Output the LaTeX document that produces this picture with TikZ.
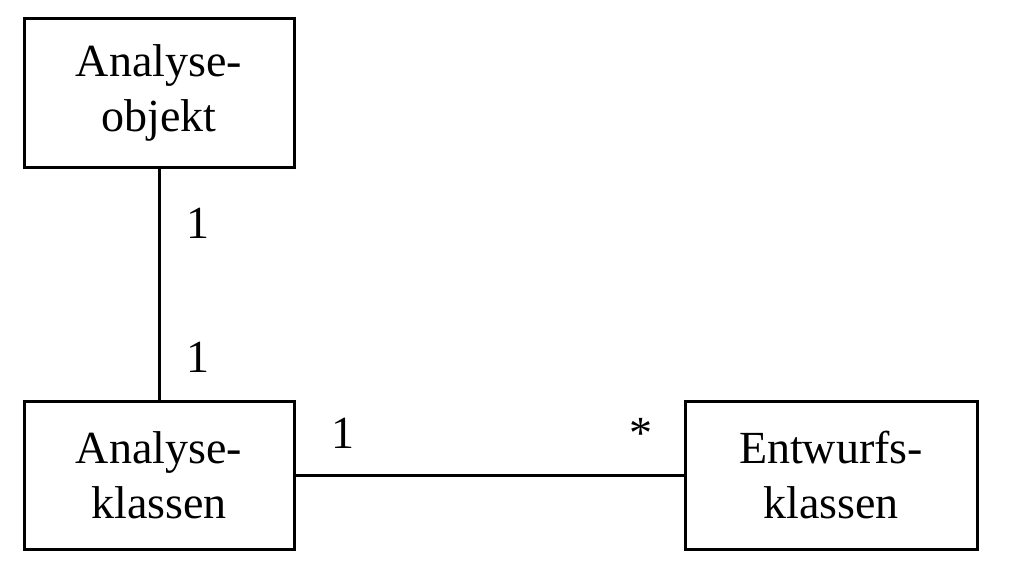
\documentclass[tikz,border=0pt]{standalone}
\usepackage{fontspec}
\setmainfont{Liberation Serif}

\tikzset{every picture/.style={line width=2.25pt}}
\tikzset{classbox/.style={draw,minimum width=202.5pt,minimum height=111pt,inner sep=0pt,align=center,font=\fontsize{34.5}{41.25}\selectfont}}
\tikzset{multlabel/.style={anchor=base,inner sep=0pt,font=\fontsize{34.5}{41.25}\selectfont}}

\begin{document}
\begin{tikzpicture}[x=0.75pt,y=0.75pt,yscale=-1,xscale=1]
	%set diagram size
	\useasboundingbox (0,0) rectangle (1021,585);
	
	%Shape: Rectangle [id:analyseobjekt] 
	\node [classbox] (objekt) at (159,93) {Analyse-\\objekt};
	%Shape: Rectangle [id:analyseklassen] 
	\node [classbox] (klassen) at (159,475.5) {Analyse-\\klassen};
	%Shape: Rectangle [id:entwurfsklassen] 
	\node [classbox,minimum width=219pt] (entwurf) at (831,475.5) {Entwurfs-\\klassen};
	
	%Straight Lines [id:objekt-klassen] 
	\draw    (objekt) -- (klassen) ;
	%Straight Lines [id:klassen-entwurf] 
	\draw    (klassen) -- (entwurf) ;
	
	% Text Node
	\node [multlabel] (m1) at (198,238) {1};
	% Text Node
	\node [multlabel] (m2) at (198,372) {1};
	% Text Node
	\node [multlabel] (m3) at (343,448) {1};
	% Text Node
	\node [multlabel] (m4) at (641,448) {*};
	
\end{tikzpicture}
\end{document}
